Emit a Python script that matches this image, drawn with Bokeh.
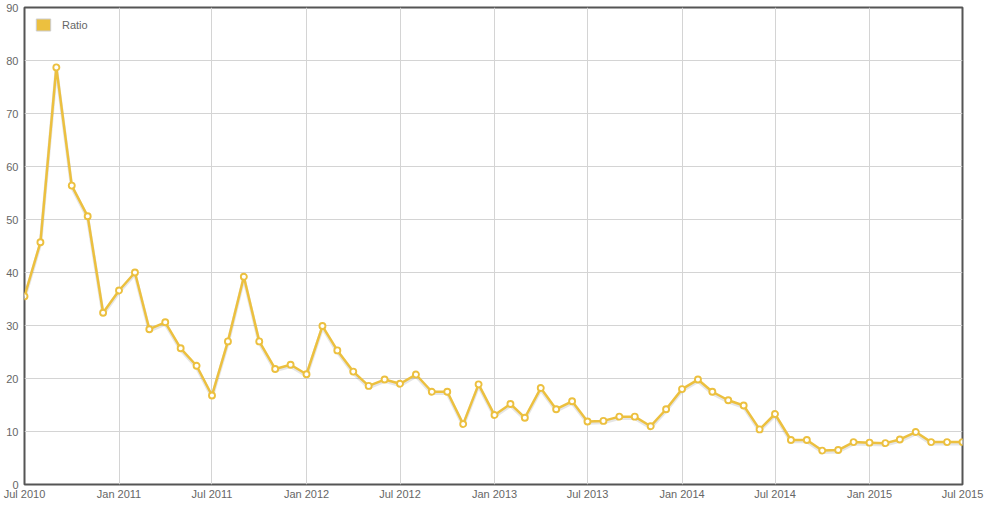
import pandas as pd
from bokeh.plotting import figure
from bokeh.models import (Range1d, FixedTicker, DatetimeTickFormatter, Legend, LegendItem,
                          ColumnDataSource)
from bokeh.embed import file_html
from bokeh.resources import INLINE

# ---- data ----
months = pd.date_range("2010-07-01", periods=61, freq="MS")
ratio = [35.5, 45.7, 78.7, 56.4, 50.6, 32.4, 36.6, 40.0, 29.3, 30.6, 25.7, 22.4,
         16.8, 27.0, 39.2, 27.0, 21.8, 22.6, 20.8, 29.9, 25.3, 21.3, 18.6, 19.8,
         19.0, 20.75, 17.5, 17.5, 11.4, 18.9, 13.1, 15.2, 12.6, 18.2, 14.2, 15.7,
         11.9, 12.0, 12.8, 12.8, 11.0, 14.2, 18.0, 19.8, 17.5, 15.9, 14.9, 10.4,
         13.3, 8.4, 8.4, 6.4, 6.5, 8.0, 7.9, 7.8, 8.5, 9.9, 8.0, 8.0, 8.0]
tick_dates = pd.date_range("2010-07-01", "2015-07-01", freq="6MS")
y_ticks = list(range(0, 91, 10))
series_name = "Ratio"

GOLD = "#ecc03f"
GRID = "#d4d4d4"
TXT = "#666666"
FONT = "Liberation Sans"

src = ColumnDataSource(dict(x=months, y=ratio, ys=[v - 0.3 for v in ratio]))

p = figure(width=989, height=508, x_axis_type="datetime",
           output_backend="svg", toolbar_location=None,
           x_range=Range1d(months[0], months[-1]), y_range=Range1d(0, 90),
           min_border_left=24, min_border_right=27, min_border_top=7, min_border_bottom=24)

p.outline_line_color = "#555555"
p.outline_line_width = 2
p.background_fill_color = "white"
p.border_fill_color = "white"

# grids
p.xgrid.ticker = FixedTicker(ticks=[d.value / 1e6 for d in tick_dates])
p.ygrid.ticker = FixedTicker(ticks=y_ticks)
for g in (p.xgrid, p.ygrid):
    g.grid_line_color = GRID
    g.grid_line_width = 1

# axes
xa = p.xaxis[0]
xa.ticker = FixedTicker(ticks=[d.value / 1e6 for d in tick_dates])
xa.formatter = DatetimeTickFormatter(months="%b %Y", years="%b %Y", days="%b %Y")
ya = p.yaxis[0]
ya.ticker = FixedTicker(ticks=y_ticks)
for ax in (xa, ya):
    ax.axis_line_color = None
    ax.major_tick_line_color = None
    ax.minor_tick_line_color = None
    ax.major_tick_out = 0
    ax.major_tick_in = 0
    ax.minor_tick_out = 0
    ax.minor_tick_in = 0
    ax.major_label_text_color = TXT
    ax.major_label_text_font = FONT
    ax.major_label_text_font_size = "11px"
xa.major_label_standoff = 3
ya.major_label_standoff = 6

# shadow + line + markers
p.line("x", "ys", source=src, line_color="#000000", line_alpha=0.10, line_width=3.5)
p.line("x", "y", source=src, line_color=GOLD, line_width=2.5)
p.scatter("x", "y", source=src, size=6, fill_color="white", line_color=GOLD, line_width=1.9)

# legend swatch (placed below the visible y range so only the legend shows it)
sw = p.quad(left=[months[0]], right=[months[1]], top=[-5], bottom=[-10],
            fill_color=GOLD, line_color="#cccccc", line_width=1)
legend = Legend(items=[LegendItem(label=series_name, renderers=[sw])],
                location="top_left", glyph_width=18, glyph_height=15,
                label_text_font=FONT, label_text_font_size="11px", label_text_color=TXT,
                label_standoff=10, border_line_color=None, background_fill_alpha=0,
                padding=8, margin=10)
p.add_layout(legend, "center")

open("out.html", "w").write(file_html(p, INLINE))
